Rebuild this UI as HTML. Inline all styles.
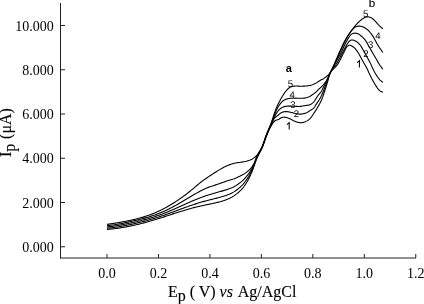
<!DOCTYPE html>
<html><head><meta charset="utf-8"><style>
html,body{margin:0;padding:0;background:#fff;}
svg{filter:grayscale(1);}
body{width:424px;height:304px;overflow:hidden;position:relative;}
svg{position:absolute;left:0;top:0;}
.serif{font-family:"Liberation Serif",serif;fill:#000;}
.ttl{stroke:#000;stroke-width:0.12px;}
.sans{font-family:"Liberation Sans",sans-serif;fill:#000;}
</style></head><body>
<svg width="424" height="304" viewBox="0 0 424 304">
<g stroke="#222" stroke-width="1" fill="none">
<line x1="60.5" y1="3" x2="60.5" y2="258.5"/>
<line x1="60" y1="258" x2="416" y2="258"/>
<line x1="60" y1="246.75" x2="65" y2="246.75"/>
<line x1="60" y1="202.50" x2="65" y2="202.50"/>
<line x1="60" y1="158.25" x2="65" y2="158.25"/>
<line x1="60" y1="114.00" x2="65" y2="114.00"/>
<line x1="60" y1="69.75" x2="65" y2="69.75"/>
<line x1="60" y1="25.50" x2="65" y2="25.50"/>
<line x1="107.00" y1="258" x2="107.00" y2="254"/>
<line x1="158.46" y1="258" x2="158.46" y2="254"/>
<line x1="209.92" y1="258" x2="209.92" y2="254"/>
<line x1="261.38" y1="258" x2="261.38" y2="254"/>
<line x1="312.84" y1="258" x2="312.84" y2="254"/>
<line x1="364.30" y1="258" x2="364.30" y2="254"/>
<line x1="415.76" y1="258" x2="415.76" y2="254"/>
</g>
<g stroke="#000" stroke-width="1.1" fill="none" stroke-linejoin="round">
<path d="M107.00 229.43 L107.84 229.35 L108.68 229.27 L109.51 229.20 L110.35 229.12 L111.19 229.04 L112.03 228.96 L112.86 228.87 L113.70 228.78 L114.54 228.68 L115.38 228.57 L116.21 228.46 L117.05 228.34 L117.89 228.22 L118.73 228.10 L119.56 227.97 L120.40 227.84 L121.24 227.71 L122.08 227.57 L122.91 227.43 L123.75 227.29 L124.59 227.15 L125.43 227.00 L126.26 226.85 L127.10 226.69 L127.94 226.53 L128.78 226.37 L129.61 226.20 L130.45 226.03 L131.29 225.86 L132.13 225.68 L132.96 225.50 L133.80 225.32 L134.64 225.14 L135.48 224.95 L136.31 224.76 L137.15 224.56 L137.99 224.37 L138.83 224.17 L139.66 223.97 L140.50 223.76 L141.34 223.55 L142.18 223.34 L143.02 223.12 L143.85 222.90 L144.69 222.68 L145.53 222.46 L146.36 222.23 L147.20 222.00 L148.04 221.77 L148.88 221.53 L149.72 221.29 L150.55 221.04 L151.39 220.80 L152.23 220.55 L153.06 220.30 L153.90 220.05 L154.74 219.80 L155.58 219.54 L156.41 219.28 L157.25 219.02 L158.09 218.76 L158.93 218.50 L159.76 218.24 L160.60 217.97 L161.44 217.70 L162.28 217.43 L163.11 217.16 L163.95 216.89 L164.79 216.61 L165.63 216.34 L166.46 216.06 L167.30 215.79 L168.14 215.52 L168.98 215.24 L169.81 214.96 L170.65 214.69 L171.49 214.41 L172.32 214.14 L173.16 213.86 L174.00 213.59 L174.84 213.32 L175.67 213.05 L176.51 212.78 L177.35 212.51 L178.19 212.24 L179.02 211.97 L179.86 211.71 L180.70 211.45 L181.54 211.19 L182.37 210.93 L183.21 210.68 L184.05 210.43 L184.88 210.18 L185.72 209.93 L186.56 209.68 L187.40 209.44 L188.24 209.20 L189.07 208.97 L189.91 208.73 L190.75 208.50 L191.58 208.27 L192.42 208.05 L193.26 207.83 L194.10 207.61 L194.94 207.40 L195.77 207.19 L196.61 206.98 L197.45 206.78 L198.29 206.58 L199.12 206.39 L199.96 206.19 L200.80 206.00 L201.64 205.81 L202.47 205.62 L203.31 205.44 L204.15 205.26 L204.99 205.08 L205.82 204.90 L206.66 204.72 L207.50 204.54 L208.34 204.36 L209.18 204.19 L210.01 204.01 L210.85 203.84 L211.69 203.67 L212.53 203.49 L213.36 203.31 L214.20 203.12 L215.04 202.93 L215.88 202.74 L216.72 202.54 L217.56 202.34 L218.39 202.14 L219.23 201.92 L220.07 201.70 L220.90 201.46 L221.74 201.21 L222.59 200.96 L223.43 200.70 L224.27 200.42 L225.11 200.14 L225.94 199.84 L226.77 199.51 L227.60 199.17 L228.45 198.80 L229.29 198.41 L230.13 198.01 L230.97 197.59 L231.80 197.14 L232.63 196.66 L233.47 196.15 L234.30 195.60 L235.29 194.90 L236.30 194.14 L237.33 193.32 L238.35 192.47 L239.34 191.60 L240.29 190.72 L241.19 189.85 L242.00 189.00 L242.60 188.32 L243.16 187.64 L243.68 186.97 L244.17 186.29 L244.63 185.61 L245.09 184.92 L245.54 184.21 L246.00 183.50 L246.47 182.76 L246.93 182.02 L247.37 181.27 L247.81 180.51 L248.24 179.73 L248.66 178.94 L249.08 178.13 L249.50 177.30 L249.96 176.34 L250.41 175.35 L250.85 174.35 L251.28 173.32 L251.71 172.27 L252.14 171.20 L252.57 170.11 L253.00 169.00 L253.49 167.70 L253.97 166.35 L254.44 164.97 L254.92 163.57 L255.41 162.16 L255.91 160.75 L256.44 159.36 L257.00 158.00 L257.61 156.67 L258.26 155.35 L258.95 154.05 L259.65 152.75 L260.35 151.45 L261.04 150.15 L261.69 148.83 L262.30 147.50 L262.86 146.15 L263.37 144.77 L263.87 143.38 L264.34 141.99 L264.81 140.60 L265.28 139.21 L265.78 137.85 L266.30 136.50 L266.83 135.20 L267.37 133.88 L267.92 132.56 L268.48 131.25 L269.05 129.98 L269.63 128.75 L270.21 127.59 L270.80 126.50 L271.26 125.69 L271.72 124.89 L272.18 124.12 L272.64 123.38 L273.11 122.69 L273.60 122.05 L274.12 121.49 L274.65 121.00 L275.09 120.69 L275.55 120.44 L276.03 120.24 L276.51 120.07 L276.99 119.92 L277.47 119.77 L277.95 119.60 L278.40 119.40 L278.81 119.18 L279.22 118.94 L279.61 118.68 L280.00 118.43 L280.39 118.18 L280.78 117.96 L281.18 117.76 L281.60 117.60 L282.02 117.48 L282.45 117.37 L282.89 117.29 L283.33 117.23 L283.77 117.19 L284.22 117.17 L284.66 117.17 L285.10 117.20 L285.56 117.26 L286.03 117.37 L286.51 117.50 L286.98 117.65 L287.45 117.82 L287.89 117.99 L288.31 118.15 L288.70 118.30 L288.95 118.40 L289.19 118.49 L289.40 118.58 L289.61 118.68 L289.82 118.77 L290.03 118.88 L290.26 118.98 L290.50 119.10 L290.85 119.27 L291.21 119.46 L291.59 119.67 L291.98 119.88 L292.38 120.09 L292.79 120.30 L293.19 120.51 L293.60 120.70 L294.02 120.89 L294.45 121.09 L294.88 121.28 L295.32 121.47 L295.76 121.65 L296.21 121.81 L296.65 121.96 L297.10 122.10 L297.54 122.22 L297.99 122.33 L298.44 122.43 L298.89 122.52 L299.35 122.60 L299.80 122.65 L300.25 122.69 L300.70 122.70 L301.14 122.69 L301.58 122.66 L302.02 122.60 L302.46 122.54 L302.90 122.45 L303.33 122.35 L303.77 122.23 L304.20 122.10 L304.66 121.94 L305.13 121.76 L305.61 121.56 L306.07 121.35 L306.53 121.12 L306.98 120.88 L307.40 120.64 L307.80 120.40 L308.11 120.19 L308.41 119.98 L308.69 119.77 L308.97 119.55 L309.23 119.32 L309.49 119.09 L309.74 118.85 L310.00 118.60 L310.27 118.33 L310.53 118.04 L310.78 117.75 L311.04 117.45 L311.28 117.15 L311.53 116.83 L311.76 116.52 L312.00 116.20 L312.23 115.87 L312.45 115.55 L312.67 115.22 L312.88 114.88 L313.09 114.53 L313.31 114.18 L313.55 113.80 L313.80 113.40 L314.19 112.80 L314.61 112.17 L315.06 111.50 L315.52 110.80 L315.99 110.08 L316.47 109.34 L316.94 108.57 L317.40 107.80 L317.94 106.85 L318.50 105.86 L319.06 104.84 L319.63 103.79 L320.18 102.72 L320.71 101.64 L321.22 100.57 L321.70 99.50 L322.13 98.46 L322.54 97.41 L322.92 96.36 L323.28 95.30 L323.64 94.24 L323.99 93.17 L324.34 92.09 L324.70 91.00 L325.08 89.84 L325.46 88.66 L325.84 87.47 L326.22 86.28 L326.59 85.08 L326.96 83.88 L327.33 82.68 L327.70 81.50 L328.03 80.33 L328.32 79.14 L328.59 77.95 L328.87 76.77 L329.18 75.60 L329.54 74.46 L329.97 73.35 L330.50 72.30 L331.16 71.31 L331.93 70.40 L332.77 69.54 L333.67 68.70 L334.60 67.86 L335.51 66.98 L336.39 66.04 L337.20 65.00 L338.11 63.60 L339.01 62.05 L339.89 60.41 L340.74 58.71 L341.56 57.02 L342.35 55.39 L343.10 53.87 L343.80 52.50 L344.25 51.63 L344.66 50.77 L345.04 49.94 L345.42 49.15 L345.79 48.41 L346.17 47.74 L346.57 47.14 L347.00 46.64 L347.31 46.35 L347.63 46.08 L347.96 45.85 L348.30 45.64 L348.63 45.47 L348.96 45.34 L349.29 45.25 L349.60 45.20 L349.85 45.20 L350.08 45.24 L350.32 45.31 L350.55 45.40 L350.78 45.51 L351.01 45.64 L351.25 45.77 L351.50 45.90 L351.85 46.08 L352.21 46.28 L352.57 46.50 L352.95 46.73 L353.33 46.99 L353.71 47.28 L354.09 47.59 L354.47 47.93 L355.00 48.46 L355.53 49.07 L356.07 49.73 L356.61 50.43 L357.14 51.17 L357.67 51.94 L358.19 52.72 L358.70 53.50 L359.26 54.42 L359.82 55.39 L360.36 56.40 L360.89 57.43 L361.42 58.47 L361.94 59.50 L362.47 60.52 L363.00 61.50 L363.51 62.40 L364.03 63.30 L364.56 64.19 L365.08 65.08 L365.59 65.95 L366.08 66.81 L366.56 67.66 L367.00 68.50 L367.35 69.20 L367.66 69.88 L367.95 70.53 L368.23 71.19 L368.52 71.85 L368.81 72.53 L369.14 73.24 L369.50 74.00 L370.06 75.13 L370.66 76.36 L371.31 77.65 L371.98 78.97 L372.68 80.30 L373.39 81.60 L374.10 82.85 L374.80 84.00 L375.40 84.94 L376.00 85.89 L376.62 86.82 L377.23 87.71 L377.85 88.56 L378.47 89.33 L379.09 90.02 L379.70 90.60 L380.10 90.91 L380.50 91.18 L380.90 91.39 L381.30 91.58 L381.70 91.76 L382.10 91.93 L382.50 92.10 L382.90 92.30"/>
<path d="M107.00 228.22 L107.84 228.14 L108.68 228.06 L109.51 227.98 L110.35 227.91 L111.19 227.83 L112.03 227.74 L112.86 227.65 L113.70 227.55 L114.54 227.44 L115.38 227.32 L116.22 227.20 L117.05 227.07 L117.89 226.93 L118.73 226.80 L119.56 226.65 L120.40 226.51 L121.24 226.36 L122.08 226.21 L122.91 226.05 L123.75 225.89 L124.59 225.73 L125.43 225.57 L126.26 225.40 L127.10 225.23 L127.94 225.06 L128.78 224.89 L129.61 224.71 L130.45 224.53 L131.29 224.35 L132.13 224.17 L132.96 223.99 L133.80 223.80 L134.64 223.61 L135.48 223.42 L136.31 223.22 L137.15 223.03 L137.99 222.83 L138.83 222.62 L139.66 222.42 L140.50 222.21 L141.34 222.00 L142.18 221.79 L143.02 221.57 L143.85 221.35 L144.69 221.13 L145.53 220.91 L146.36 220.68 L147.20 220.45 L148.04 220.22 L148.88 219.98 L149.72 219.74 L150.55 219.50 L151.39 219.25 L152.23 219.00 L153.06 218.75 L153.90 218.50 L154.74 218.24 L155.58 217.98 L156.42 217.72 L157.25 217.45 L158.09 217.18 L158.93 216.91 L159.76 216.64 L160.60 216.36 L161.44 216.08 L162.28 215.79 L163.12 215.51 L163.95 215.22 L164.79 214.93 L165.63 214.63 L166.46 214.34 L167.30 214.04 L168.14 213.74 L168.98 213.44 L169.81 213.14 L170.65 212.84 L171.49 212.53 L172.33 212.22 L173.16 211.92 L174.00 211.61 L174.84 211.30 L175.68 210.99 L176.51 210.68 L177.35 210.37 L178.19 210.05 L179.02 209.74 L179.86 209.43 L180.70 209.12 L181.54 208.81 L182.37 208.51 L183.21 208.20 L184.05 207.89 L184.89 207.59 L185.72 207.29 L186.56 206.99 L187.40 206.69 L188.24 206.40 L189.07 206.10 L189.91 205.81 L190.75 205.52 L191.58 205.24 L192.42 204.96 L193.26 204.68 L194.10 204.40 L194.94 204.13 L195.77 203.86 L196.61 203.60 L197.45 203.33 L198.28 203.08 L199.12 202.82 L199.96 202.57 L200.80 202.32 L201.64 202.08 L202.47 201.84 L203.31 201.60 L204.15 201.37 L204.98 201.14 L205.82 200.91 L206.66 200.68 L207.50 200.46 L208.34 200.24 L209.17 200.03 L210.01 199.82 L210.85 199.61 L211.69 199.40 L212.53 199.19 L213.36 198.98 L214.20 198.77 L215.04 198.56 L215.88 198.35 L216.72 198.14 L217.55 197.92 L218.39 197.71 L219.23 197.49 L220.07 197.26 L220.90 197.02 L221.74 196.77 L222.58 196.53 L223.42 196.27 L224.26 196.02 L225.10 195.75 L225.94 195.46 L226.77 195.16 L227.60 194.84 L228.45 194.50 L229.29 194.15 L230.13 193.79 L230.96 193.41 L231.80 193.01 L232.63 192.58 L233.46 192.12 L234.30 191.61 L235.28 190.96 L236.30 190.24 L237.32 189.47 L238.34 188.67 L239.33 187.84 L240.29 187.01 L241.18 186.19 L242.00 185.40 L242.60 184.79 L243.15 184.18 L243.66 183.58 L244.15 182.98 L244.62 182.37 L245.08 181.76 L245.54 181.14 L246.00 180.50 L246.47 179.84 L246.92 179.18 L247.37 178.51 L247.80 177.84 L248.23 177.15 L248.66 176.45 L249.08 175.73 L249.50 175.00 L249.96 174.18 L250.40 173.36 L250.84 172.52 L251.28 171.66 L251.71 170.79 L252.14 169.89 L252.57 168.96 L253.00 168.00 L253.50 166.80 L253.99 165.53 L254.46 164.22 L254.94 162.88 L255.42 161.52 L255.92 160.16 L256.45 158.82 L257.00 157.50 L257.61 156.18 L258.27 154.87 L258.95 153.57 L259.65 152.27 L260.35 150.97 L261.04 149.66 L261.69 148.34 L262.30 147.00 L262.86 145.65 L263.38 144.28 L263.87 142.90 L264.35 141.51 L264.82 140.12 L265.29 138.74 L265.78 137.36 L266.30 136.00 L266.84 134.65 L267.39 133.30 L267.96 131.94 L268.53 130.59 L269.11 129.26 L269.68 127.96 L270.25 126.70 L270.80 125.50 L271.24 124.53 L271.66 123.56 L272.07 122.62 L272.49 121.70 L272.91 120.82 L273.35 119.98 L273.81 119.21 L274.31 118.50 L274.74 118.00 L275.19 117.54 L275.66 117.12 L276.15 116.73 L276.63 116.36 L277.11 116.00 L277.57 115.65 L278.00 115.30 L278.33 115.01 L278.66 114.72 L278.97 114.44 L279.28 114.17 L279.58 113.90 L279.88 113.65 L280.19 113.42 L280.50 113.20 L280.77 113.03 L281.03 112.86 L281.29 112.71 L281.56 112.57 L281.82 112.44 L282.10 112.32 L282.39 112.20 L282.70 112.10 L283.10 111.99 L283.53 111.89 L283.98 111.80 L284.44 111.73 L284.91 111.67 L285.38 111.63 L285.84 111.61 L286.30 111.60 L286.75 111.61 L287.20 111.65 L287.65 111.70 L288.11 111.76 L288.56 111.84 L289.01 111.92 L289.45 112.01 L289.90 112.10 L290.34 112.19 L290.76 112.30 L291.18 112.41 L291.60 112.53 L292.03 112.65 L292.47 112.77 L292.92 112.89 L293.40 113.00 L294.03 113.15 L294.70 113.31 L295.40 113.48 L296.12 113.65 L296.84 113.80 L297.55 113.94 L298.24 114.04 L298.90 114.10 L299.44 114.12 L299.97 114.13 L300.49 114.11 L301.01 114.08 L301.51 114.03 L302.01 113.96 L302.51 113.89 L303.00 113.80 L303.47 113.71 L303.93 113.60 L304.39 113.49 L304.84 113.36 L305.29 113.22 L305.73 113.06 L306.17 112.89 L306.60 112.70 L307.04 112.49 L307.47 112.25 L307.89 112.00 L308.31 111.73 L308.73 111.45 L309.15 111.17 L309.57 110.88 L310.00 110.60 L310.48 110.30 L310.97 110.00 L311.48 109.70 L311.98 109.39 L312.48 109.07 L312.95 108.73 L313.40 108.38 L313.80 108.00 L314.13 107.63 L314.43 107.24 L314.69 106.85 L314.94 106.43 L315.18 106.00 L315.43 105.56 L315.70 105.09 L316.00 104.60 L316.48 103.86 L317.01 103.07 L317.58 102.24 L318.16 101.38 L318.74 100.48 L319.32 99.57 L319.88 98.64 L320.40 97.70 L320.94 96.66 L321.46 95.58 L321.96 94.47 L322.45 93.34 L322.93 92.21 L323.39 91.06 L323.85 89.93 L324.30 88.80 L324.73 87.70 L325.14 86.59 L325.55 85.48 L325.94 84.37 L326.33 83.26 L326.72 82.16 L327.10 81.07 L327.50 80.00 L327.86 79.01 L328.20 78.03 L328.53 77.06 L328.87 76.10 L329.22 75.15 L329.60 74.20 L330.02 73.25 L330.50 72.30 L331.10 71.26 L331.77 70.25 L332.50 69.24 L333.25 68.24 L334.03 67.23 L334.81 66.19 L335.57 65.12 L336.30 64.00 L337.11 62.65 L337.93 61.22 L338.75 59.74 L339.56 58.23 L340.36 56.72 L341.13 55.25 L341.88 53.83 L342.60 52.50 L343.15 51.48 L343.67 50.48 L344.18 49.51 L344.67 48.56 L345.15 47.64 L345.64 46.75 L346.12 45.90 L346.60 45.10 L346.98 44.49 L347.35 43.87 L347.72 43.28 L348.08 42.70 L348.45 42.17 L348.82 41.68 L349.21 41.26 L349.60 40.90 L349.88 40.69 L350.16 40.51 L350.45 40.35 L350.74 40.22 L351.03 40.12 L351.33 40.04 L351.64 39.98 L351.95 39.95 L352.33 39.95 L352.72 40.00 L353.13 40.09 L353.55 40.21 L353.97 40.34 L354.37 40.49 L354.75 40.65 L355.10 40.80 L355.37 40.92 L355.61 41.05 L355.84 41.18 L356.07 41.31 L356.29 41.46 L356.51 41.62 L356.75 41.80 L357.00 42.00 L357.40 42.33 L357.83 42.70 L358.27 43.10 L358.73 43.53 L359.19 43.99 L359.64 44.48 L360.08 44.98 L360.50 45.50 L360.97 46.16 L361.43 46.86 L361.88 47.61 L362.32 48.39 L362.74 49.18 L363.17 49.97 L363.58 50.75 L364.00 51.50 L364.39 52.20 L364.77 52.89 L365.15 53.58 L365.52 54.26 L365.89 54.95 L366.26 55.63 L366.63 56.31 L367.00 57.00 L367.37 57.68 L367.74 58.33 L368.10 58.99 L368.47 59.64 L368.84 60.31 L369.21 61.00 L369.60 61.73 L370.00 62.50 L370.55 63.62 L371.12 64.83 L371.70 66.12 L372.29 67.44 L372.90 68.77 L373.52 70.07 L374.16 71.33 L374.80 72.50 L375.39 73.49 L375.99 74.47 L376.61 75.44 L377.24 76.38 L377.86 77.28 L378.49 78.12 L379.10 78.90 L379.70 79.60 L380.11 80.04 L380.51 80.43 L380.91 80.78 L381.31 81.11 L381.71 81.43 L382.10 81.74 L382.50 82.06 L382.90 82.40"/>
<path d="M107.00 226.93 L107.84 226.84 L108.68 226.75 L109.51 226.66 L110.35 226.57 L111.19 226.48 L112.03 226.39 L112.86 226.28 L113.70 226.17 L114.54 226.05 L115.38 225.92 L116.22 225.78 L117.05 225.64 L117.89 225.49 L118.73 225.34 L119.56 225.19 L120.40 225.04 L121.24 224.89 L122.08 224.73 L122.91 224.57 L123.75 224.41 L124.59 224.24 L125.43 224.08 L126.26 223.91 L127.10 223.74 L127.94 223.57 L128.78 223.39 L129.61 223.22 L130.45 223.04 L131.29 222.86 L132.13 222.67 L132.96 222.49 L133.80 222.30 L134.64 222.11 L135.48 221.92 L136.31 221.73 L137.15 221.53 L137.99 221.33 L138.83 221.13 L139.66 220.93 L140.50 220.72 L141.34 220.51 L142.18 220.30 L143.02 220.08 L143.85 219.86 L144.69 219.64 L145.53 219.41 L146.36 219.18 L147.20 218.95 L148.04 218.71 L148.88 218.47 L149.72 218.22 L150.55 217.97 L151.39 217.71 L152.23 217.45 L153.06 217.19 L153.90 216.92 L154.74 216.65 L155.58 216.37 L156.42 216.08 L157.26 215.79 L158.09 215.50 L158.93 215.20 L159.76 214.90 L160.60 214.60 L161.44 214.29 L162.28 213.98 L163.12 213.66 L163.96 213.34 L164.79 213.01 L165.63 212.68 L166.46 212.35 L167.30 212.01 L168.14 211.67 L168.98 211.32 L169.82 210.97 L170.65 210.61 L171.49 210.25 L172.33 209.89 L173.16 209.53 L174.00 209.17 L174.84 208.80 L175.68 208.43 L176.51 208.06 L177.35 207.69 L178.19 207.32 L179.03 206.94 L179.86 206.56 L180.70 206.19 L181.54 205.81 L182.37 205.44 L183.21 205.06 L184.05 204.68 L184.89 204.30 L185.72 203.93 L186.56 203.55 L187.40 203.18 L188.24 202.81 L189.07 202.44 L189.91 202.07 L190.75 201.71 L191.58 201.34 L192.42 200.98 L193.26 200.62 L194.10 200.27 L194.94 199.92 L195.77 199.58 L196.61 199.24 L197.44 198.90 L198.28 198.57 L199.12 198.24 L199.96 197.92 L200.80 197.60 L201.63 197.29 L202.47 196.98 L203.31 196.68 L204.14 196.39 L204.98 196.10 L205.82 195.81 L206.66 195.53 L207.50 195.25 L208.34 194.98 L209.17 194.72 L210.01 194.46 L210.85 194.20 L211.68 193.95 L212.52 193.70 L213.36 193.45 L214.20 193.21 L215.04 192.97 L215.87 192.74 L216.71 192.51 L217.55 192.28 L218.39 192.05 L219.23 191.82 L220.06 191.59 L220.90 191.35 L221.74 191.11 L222.58 190.87 L223.42 190.63 L224.26 190.39 L225.10 190.15 L225.93 189.89 L226.77 189.62 L227.60 189.33 L228.44 189.03 L229.28 188.73 L230.12 188.42 L230.95 188.10 L231.79 187.76 L232.62 187.40 L233.46 187.00 L234.30 186.56 L235.28 186.00 L236.29 185.38 L237.31 184.72 L238.33 184.03 L239.32 183.31 L240.28 182.59 L241.18 181.89 L242.00 181.20 L242.59 180.68 L243.14 180.16 L243.65 179.64 L244.14 179.12 L244.61 178.60 L245.08 178.07 L245.53 177.54 L246.00 177.00 L246.46 176.46 L246.91 175.92 L247.36 175.38 L247.80 174.83 L248.23 174.27 L248.66 173.70 L249.08 173.11 L249.50 172.50 L249.96 171.81 L250.41 171.11 L250.85 170.40 L251.29 169.67 L251.72 168.92 L252.15 168.14 L252.57 167.34 L253.00 166.50 L253.51 165.43 L254.00 164.30 L254.48 163.13 L254.96 161.92 L255.44 160.69 L255.94 159.45 L256.46 158.22 L257.00 157.00 L257.62 155.71 L258.28 154.41 L258.97 153.11 L259.66 151.81 L260.36 150.49 L261.04 149.17 L261.69 147.84 L262.30 146.50 L262.86 145.15 L263.38 143.78 L263.87 142.40 L264.35 141.01 L264.82 139.62 L265.29 138.24 L265.78 136.86 L266.30 135.50 L266.84 134.16 L267.40 132.82 L267.97 131.47 L268.55 130.14 L269.13 128.82 L269.70 127.52 L270.26 126.24 L270.80 125.00 L271.25 123.94 L271.68 122.89 L272.11 121.87 L272.52 120.86 L272.94 119.87 L273.38 118.89 L273.83 117.94 L274.31 117.00 L274.78 116.13 L275.27 115.26 L275.77 114.40 L276.28 113.56 L276.80 112.75 L277.33 111.97 L277.86 111.26 L278.40 110.60 L278.82 110.13 L279.24 109.69 L279.67 109.27 L280.10 108.88 L280.54 108.52 L280.98 108.19 L281.44 107.88 L281.90 107.60 L282.33 107.37 L282.75 107.18 L283.18 107.01 L283.62 106.86 L284.07 106.72 L284.53 106.61 L285.01 106.50 L285.50 106.40 L286.11 106.30 L286.76 106.23 L287.43 106.17 L288.12 106.14 L288.81 106.12 L289.49 106.11 L290.16 106.10 L290.80 106.10 L291.35 106.10 L291.88 106.12 L292.39 106.15 L292.91 106.18 L293.42 106.21 L293.94 106.25 L294.46 106.28 L295.00 106.30 L295.60 106.32 L296.22 106.35 L296.84 106.39 L297.47 106.41 L298.11 106.43 L298.74 106.44 L299.37 106.43 L300.00 106.40 L300.63 106.34 L301.27 106.26 L301.90 106.16 L302.54 106.05 L303.17 105.93 L303.79 105.81 L304.40 105.70 L305.00 105.60 L305.53 105.53 L306.06 105.46 L306.58 105.41 L307.09 105.35 L307.60 105.29 L308.09 105.21 L308.55 105.12 L309.00 105.00 L309.35 104.89 L309.68 104.76 L310.00 104.63 L310.31 104.48 L310.62 104.33 L310.91 104.16 L311.21 103.99 L311.50 103.80 L311.81 103.59 L312.11 103.37 L312.40 103.14 L312.69 102.90 L312.98 102.64 L313.26 102.38 L313.53 102.10 L313.80 101.80 L314.10 101.44 L314.38 101.05 L314.66 100.64 L314.93 100.21 L315.20 99.77 L315.47 99.34 L315.73 98.91 L316.00 98.50 L316.25 98.12 L316.49 97.75 L316.73 97.38 L316.97 97.01 L317.21 96.64 L317.46 96.27 L317.72 95.89 L318.00 95.50 L318.36 95.03 L318.74 94.57 L319.14 94.10 L319.55 93.63 L319.97 93.14 L320.39 92.62 L320.80 92.08 L321.20 91.50 L321.70 90.68 L322.21 89.78 L322.71 88.81 L323.21 87.82 L323.70 86.82 L324.18 85.83 L324.65 84.88 L325.10 84.00 L325.46 83.33 L325.81 82.70 L326.16 82.09 L326.50 81.49 L326.83 80.89 L327.16 80.29 L327.48 79.66 L327.80 79.00 L328.15 78.22 L328.47 77.43 L328.78 76.62 L329.09 75.79 L329.41 74.94 L329.74 74.08 L330.10 73.20 L330.50 72.30 L331.04 71.16 L331.63 69.97 L332.25 68.75 L332.90 67.51 L333.57 66.25 L334.25 64.99 L334.93 63.74 L335.60 62.50 L336.29 61.25 L337.00 60.00 L337.71 58.75 L338.44 57.50 L339.16 56.25 L339.86 55.00 L340.55 53.75 L341.20 52.50 L341.80 51.29 L342.38 50.05 L342.94 48.80 L343.49 47.56 L344.03 46.34 L344.56 45.16 L345.08 44.04 L345.60 43.00 L345.99 42.26 L346.36 41.55 L346.73 40.88 L347.10 40.23 L347.47 39.60 L347.84 38.98 L348.21 38.39 L348.60 37.80 L348.95 37.28 L349.29 36.75 L349.63 36.23 L349.98 35.72 L350.33 35.25 L350.70 34.81 L351.09 34.42 L351.50 34.10 L351.86 33.88 L352.24 33.69 L352.63 33.53 L353.03 33.40 L353.43 33.31 L353.84 33.23 L354.25 33.18 L354.65 33.15 L355.06 33.14 L355.48 33.16 L355.90 33.21 L356.32 33.28 L356.74 33.37 L357.17 33.49 L357.58 33.63 L358.00 33.80 L358.48 34.03 L358.97 34.31 L359.45 34.62 L359.93 34.96 L360.41 35.33 L360.88 35.71 L361.34 36.10 L361.80 36.50 L362.29 36.94 L362.77 37.39 L363.24 37.86 L363.71 38.35 L364.17 38.86 L364.62 39.39 L365.07 39.93 L365.50 40.50 L365.97 41.17 L366.42 41.88 L366.86 42.61 L367.28 43.37 L367.70 44.15 L368.13 44.93 L368.56 45.72 L369.00 46.50 L369.49 47.35 L369.99 48.22 L370.49 49.11 L371.00 50.00 L371.51 50.89 L372.01 51.78 L372.51 52.65 L373.00 53.50 L373.45 54.28 L373.90 55.05 L374.34 55.81 L374.78 56.56 L375.22 57.31 L375.65 58.05 L376.08 58.78 L376.50 59.50 L376.88 60.16 L377.26 60.81 L377.62 61.46 L377.99 62.10 L378.35 62.73 L378.72 63.36 L379.11 63.98 L379.50 64.60 L379.90 65.20 L380.32 65.80 L380.74 66.39 L381.17 66.97 L381.61 67.55 L382.04 68.13 L382.47 68.71 L382.90 69.30"/>
<path d="M107.00 225.58 L107.84 225.49 L108.68 225.41 L109.51 225.33 L110.35 225.25 L111.19 225.16 L112.03 225.07 L112.86 224.97 L113.70 224.86 L114.54 224.73 L115.38 224.60 L116.22 224.46 L117.05 224.31 L117.89 224.15 L118.73 223.99 L119.56 223.83 L120.40 223.67 L121.24 223.51 L122.08 223.34 L122.91 223.17 L123.75 223.00 L124.59 222.82 L125.43 222.65 L126.26 222.47 L127.10 222.29 L127.94 222.11 L128.78 221.93 L129.61 221.75 L130.45 221.57 L131.29 221.38 L132.13 221.20 L132.96 221.01 L133.80 220.82 L134.64 220.63 L135.48 220.43 L136.31 220.24 L137.15 220.04 L137.99 219.84 L138.83 219.64 L139.66 219.43 L140.50 219.22 L141.34 219.01 L142.18 218.79 L143.02 218.57 L143.85 218.35 L144.69 218.12 L145.53 217.89 L146.36 217.65 L147.20 217.41 L148.04 217.16 L148.88 216.91 L149.72 216.65 L150.56 216.39 L151.39 216.12 L152.23 215.85 L153.07 215.57 L153.90 215.28 L154.74 214.98 L155.58 214.68 L156.42 214.37 L157.26 214.06 L158.10 213.73 L158.93 213.41 L159.77 213.07 L160.60 212.73 L161.44 212.38 L162.28 212.02 L163.12 211.65 L163.96 211.28 L164.80 210.90 L165.63 210.52 L166.47 210.13 L167.30 209.73 L168.14 209.32 L168.98 208.91 L169.82 208.49 L170.66 208.06 L171.50 207.63 L172.33 207.19 L173.17 206.75 L174.00 206.30 L174.84 205.84 L175.68 205.38 L176.52 204.91 L177.36 204.44 L178.19 203.96 L179.03 203.48 L179.86 203.00 L180.70 202.52 L181.54 202.03 L182.38 201.54 L183.22 201.04 L184.05 200.55 L184.89 200.05 L185.73 199.55 L186.56 199.05 L187.40 198.55 L188.24 198.05 L189.07 197.55 L189.91 197.05 L190.75 196.55 L191.58 196.05 L192.42 195.56 L193.26 195.07 L194.10 194.58 L194.93 194.10 L195.77 193.62 L196.60 193.14 L197.44 192.66 L198.28 192.19 L199.12 191.73 L199.96 191.28 L200.80 190.84 L201.63 190.42 L202.46 190.00 L203.30 189.59 L204.13 189.19 L204.97 188.79 L205.81 188.41 L206.65 188.05 L207.50 187.70 L208.33 187.38 L209.16 187.08 L210.00 186.79 L210.84 186.52 L211.68 186.25 L212.52 185.98 L213.36 185.71 L214.20 185.43 L215.04 185.14 L215.88 184.86 L216.71 184.57 L217.55 184.28 L218.39 183.99 L219.23 183.70 L220.06 183.41 L220.90 183.12 L221.74 182.83 L222.57 182.53 L223.41 182.23 L224.25 181.94 L225.08 181.64 L225.92 181.35 L226.76 181.06 L227.60 180.78 L228.43 180.52 L229.25 180.28 L230.07 180.06 L230.88 179.83 L231.71 179.59 L232.55 179.34 L233.41 179.05 L234.30 178.72 L235.47 178.24 L236.72 177.70 L238.02 177.11 L239.34 176.49 L240.63 175.85 L241.86 175.21 L242.99 174.59 L244.00 174.00 L244.61 173.62 L245.17 173.24 L245.69 172.87 L246.18 172.51 L246.65 172.14 L247.10 171.76 L247.55 171.39 L248.00 171.00 L248.41 170.64 L248.80 170.29 L249.19 169.93 L249.56 169.57 L249.93 169.20 L250.29 168.82 L250.64 168.42 L251.00 168.00 L251.40 167.50 L251.79 166.99 L252.18 166.46 L252.56 165.92 L252.93 165.35 L253.29 164.76 L253.65 164.14 L254.00 163.50 L254.40 162.67 L254.77 161.79 L255.11 160.88 L255.46 159.93 L255.80 158.96 L256.17 157.97 L256.56 156.98 L257.00 156.00 L257.58 154.86 L258.22 153.72 L258.91 152.56 L259.62 151.39 L260.33 150.20 L261.03 148.99 L261.69 147.76 L262.30 146.50 L262.87 145.13 L263.40 143.71 L263.89 142.27 L264.36 140.80 L264.82 139.33 L265.29 137.86 L265.78 136.42 L266.30 135.00 L266.84 133.65 L267.40 132.30 L267.98 130.96 L268.57 129.62 L269.15 128.31 L269.72 127.01 L270.28 125.74 L270.80 124.50 L271.23 123.45 L271.64 122.42 L272.04 121.41 L272.44 120.42 L272.82 119.44 L273.21 118.46 L273.59 117.48 L273.98 116.50 L274.36 115.53 L274.73 114.55 L275.10 113.57 L275.47 112.59 L275.85 111.63 L276.22 110.71 L276.61 109.83 L277.00 109.00 L277.31 108.39 L277.62 107.81 L277.92 107.26 L278.24 106.73 L278.56 106.22 L278.89 105.71 L279.23 105.21 L279.60 104.70 L279.99 104.18 L280.38 103.65 L280.79 103.12 L281.22 102.61 L281.65 102.11 L282.11 101.64 L282.59 101.20 L283.10 100.80 L283.63 100.44 L284.19 100.11 L284.77 99.81 L285.37 99.54 L285.99 99.29 L286.62 99.07 L287.26 98.87 L287.90 98.70 L288.60 98.55 L289.31 98.44 L290.05 98.36 L290.79 98.31 L291.54 98.27 L292.29 98.25 L293.05 98.23 L293.80 98.20 L294.57 98.18 L295.35 98.17 L296.14 98.17 L296.93 98.18 L297.72 98.19 L298.49 98.20 L299.26 98.21 L300.00 98.20 L300.66 98.19 L301.30 98.19 L301.94 98.19 L302.57 98.18 L303.20 98.17 L303.81 98.14 L304.41 98.08 L305.00 98.00 L305.53 97.90 L306.06 97.79 L306.57 97.66 L307.08 97.51 L307.58 97.35 L308.07 97.18 L308.54 96.99 L309.00 96.80 L309.40 96.61 L309.79 96.41 L310.16 96.20 L310.52 95.98 L310.88 95.75 L311.24 95.51 L311.61 95.26 L312.00 95.00 L312.48 94.67 L312.99 94.32 L313.50 93.95 L314.02 93.57 L314.54 93.19 L315.04 92.79 L315.53 92.39 L316.00 92.00 L316.41 91.63 L316.80 91.26 L317.17 90.88 L317.54 90.49 L317.91 90.11 L318.27 89.73 L318.63 89.36 L319.00 89.00 L319.35 88.68 L319.70 88.38 L320.04 88.09 L320.39 87.80 L320.73 87.51 L321.08 87.20 L321.44 86.87 L321.80 86.50 L322.29 85.97 L322.81 85.38 L323.34 84.76 L323.87 84.11 L324.39 83.44 L324.90 82.78 L325.37 82.12 L325.80 81.50 L326.13 80.99 L326.43 80.50 L326.70 80.01 L326.97 79.52 L327.22 79.03 L327.47 78.54 L327.73 78.03 L328.00 77.50 L328.31 76.89 L328.61 76.28 L328.91 75.66 L329.21 75.02 L329.51 74.37 L329.83 73.70 L330.16 73.01 L330.50 72.30 L330.96 71.36 L331.44 70.39 L331.94 69.39 L332.46 68.36 L332.99 67.30 L333.52 66.22 L334.06 65.12 L334.60 64.00 L335.24 62.65 L335.90 61.25 L336.56 59.81 L337.24 58.34 L337.92 56.86 L338.59 55.39 L339.25 53.93 L339.90 52.50 L340.50 51.15 L341.10 49.79 L341.69 48.44 L342.27 47.09 L342.85 45.76 L343.43 44.46 L344.01 43.21 L344.60 42.00 L345.10 41.01 L345.61 40.04 L346.11 39.09 L346.62 38.16 L347.13 37.26 L347.62 36.40 L348.12 35.56 L348.60 34.77 L348.97 34.17 L349.32 33.60 L349.67 33.05 L350.01 32.52 L350.36 32.01 L350.72 31.51 L351.10 31.02 L351.50 30.54 L351.91 30.07 L352.35 29.60 L352.79 29.13 L353.25 28.68 L353.71 28.25 L354.18 27.85 L354.64 27.50 L355.10 27.20 L355.46 27.00 L355.82 26.82 L356.18 26.67 L356.54 26.54 L356.90 26.43 L357.26 26.34 L357.63 26.26 L358.00 26.20 L358.37 26.15 L358.74 26.12 L359.11 26.11 L359.48 26.12 L359.85 26.14 L360.23 26.18 L360.61 26.23 L361.00 26.30 L361.45 26.40 L361.91 26.52 L362.38 26.67 L362.84 26.83 L363.31 27.02 L363.78 27.22 L364.24 27.45 L364.70 27.70 L365.21 28.01 L365.72 28.35 L366.23 28.71 L366.73 29.11 L367.23 29.52 L367.73 29.96 L368.22 30.42 L368.70 30.90 L369.26 31.48 L369.81 32.10 L370.35 32.75 L370.89 33.42 L371.42 34.13 L371.95 34.86 L372.47 35.62 L373.00 36.40 L373.63 37.41 L374.26 38.50 L374.88 39.64 L375.49 40.82 L376.11 42.01 L376.73 43.18 L377.36 44.32 L378.00 45.40 L378.60 46.34 L379.20 47.26 L379.82 48.16 L380.43 49.04 L381.05 49.91 L381.67 50.78 L382.29 51.65 L382.90 52.54"/>
<path d="M107.00 224.37 L107.84 224.24 L108.68 224.12 L109.51 224.00 L110.35 223.87 L111.19 223.75 L112.03 223.62 L112.86 223.49 L113.70 223.36 L114.54 223.23 L115.38 223.09 L116.21 222.96 L117.05 222.82 L117.89 222.68 L118.73 222.54 L119.56 222.40 L120.40 222.25 L121.24 222.10 L122.08 221.95 L122.91 221.80 L123.75 221.64 L124.59 221.49 L125.43 221.33 L126.26 221.17 L127.10 221.00 L127.94 220.83 L128.78 220.66 L129.62 220.49 L130.45 220.31 L131.29 220.13 L132.13 219.95 L132.96 219.76 L133.80 219.57 L134.64 219.37 L135.48 219.17 L136.32 218.96 L137.15 218.75 L137.99 218.54 L138.83 218.32 L139.66 218.09 L140.50 217.86 L141.34 217.62 L142.18 217.38 L143.02 217.13 L143.86 216.87 L144.69 216.61 L145.53 216.34 L146.37 216.07 L147.20 215.79 L148.04 215.50 L148.88 215.20 L149.72 214.90 L150.56 214.59 L151.40 214.28 L152.23 213.96 L153.07 213.63 L153.90 213.29 L154.74 212.94 L155.58 212.58 L156.42 212.22 L157.26 211.85 L158.10 211.47 L158.93 211.08 L159.77 210.69 L160.60 210.29 L161.44 209.88 L162.28 209.45 L163.12 209.02 L163.96 208.59 L164.80 208.14 L165.63 207.69 L166.47 207.23 L167.30 206.77 L168.14 206.29 L168.99 205.80 L169.83 205.31 L170.66 204.81 L171.50 204.30 L172.34 203.79 L173.17 203.27 L174.00 202.74 L174.84 202.20 L175.69 201.65 L176.52 201.09 L177.36 200.53 L178.20 199.96 L179.03 199.39 L179.87 198.81 L180.70 198.23 L181.54 197.63 L182.38 197.03 L183.23 196.43 L184.06 195.81 L184.90 195.19 L185.74 194.57 L186.57 193.94 L187.40 193.30 L188.24 192.64 L189.08 191.97 L189.92 191.30 L190.76 190.61 L191.60 189.93 L192.43 189.24 L193.27 188.55 L194.10 187.86 L194.94 187.16 L195.77 186.45 L196.61 185.74 L197.44 185.02 L198.27 184.31 L199.11 183.61 L199.95 182.93 L200.80 182.26 L201.63 181.63 L202.46 181.02 L203.30 180.41 L204.13 179.82 L204.97 179.23 L205.82 178.65 L206.66 178.07 L207.50 177.49 L208.33 176.92 L209.17 176.35 L210.00 175.79 L210.84 175.23 L211.68 174.67 L212.52 174.12 L213.36 173.57 L214.20 173.03 L215.03 172.49 L215.87 171.96 L216.70 171.43 L217.53 170.90 L218.37 170.38 L219.21 169.87 L220.05 169.37 L220.90 168.89 L221.73 168.43 L222.56 167.98 L223.39 167.54 L224.23 167.11 L225.07 166.69 L225.91 166.29 L226.75 165.90 L227.60 165.54 L228.43 165.20 L229.26 164.88 L230.09 164.57 L230.93 164.27 L231.77 163.99 L232.61 163.73 L233.45 163.49 L234.30 163.27 L235.14 163.08 L235.99 162.92 L236.85 162.78 L237.70 162.66 L238.55 162.55 L239.39 162.44 L240.21 162.32 L241.00 162.20 L241.66 162.09 L242.32 161.98 L242.96 161.88 L243.58 161.78 L244.20 161.67 L244.81 161.56 L245.41 161.43 L246.00 161.30 L246.53 161.17 L247.05 161.04 L247.57 160.90 L248.07 160.75 L248.57 160.60 L249.06 160.44 L249.54 160.28 L250.00 160.10 L250.40 159.94 L250.80 159.77 L251.19 159.59 L251.56 159.41 L251.93 159.22 L252.29 159.02 L252.65 158.82 L253.00 158.60 L253.34 158.38 L253.66 158.14 L253.99 157.89 L254.30 157.64 L254.61 157.38 L254.91 157.12 L255.21 156.86 L255.50 156.60 L255.77 156.36 L256.03 156.12 L256.28 155.88 L256.53 155.64 L256.78 155.40 L257.02 155.14 L257.26 154.88 L257.50 154.60 L257.77 154.27 L258.04 153.93 L258.30 153.58 L258.56 153.21 L258.82 152.84 L259.08 152.44 L259.34 152.03 L259.60 151.60 L259.94 151.02 L260.27 150.42 L260.60 149.79 L260.94 149.13 L261.27 148.45 L261.61 147.73 L261.95 146.98 L262.30 146.20 L262.78 145.05 L263.27 143.80 L263.76 142.48 L264.26 141.10 L264.76 139.70 L265.27 138.28 L265.78 136.88 L266.30 135.50 L266.85 134.10 L267.41 132.70 L267.99 131.30 L268.57 129.89 L269.15 128.47 L269.71 127.05 L270.27 125.63 L270.80 124.20 L271.32 122.73 L271.83 121.21 L272.32 119.66 L272.81 118.12 L273.29 116.61 L273.75 115.15 L274.21 113.78 L274.65 112.50 L274.96 111.65 L275.25 110.85 L275.53 110.09 L275.81 109.36 L276.09 108.65 L276.38 107.94 L276.68 107.23 L277.00 106.50 L277.34 105.74 L277.70 104.98 L278.07 104.22 L278.45 103.46 L278.84 102.71 L279.22 101.96 L279.61 101.22 L280.00 100.50 L280.37 99.82 L280.73 99.15 L281.10 98.49 L281.48 97.83 L281.85 97.18 L282.23 96.55 L282.61 95.92 L283.00 95.30 L283.36 94.73 L283.73 94.16 L284.10 93.60 L284.47 93.05 L284.84 92.51 L285.22 91.99 L285.61 91.49 L286.00 91.00 L286.36 90.58 L286.72 90.16 L287.09 89.75 L287.46 89.36 L287.83 88.99 L288.22 88.63 L288.60 88.30 L289.00 88.00 L289.36 87.75 L289.71 87.52 L290.07 87.31 L290.44 87.12 L290.82 86.94 L291.20 86.78 L291.59 86.63 L292.00 86.50 L292.46 86.38 L292.95 86.27 L293.44 86.19 L293.95 86.13 L294.47 86.08 L294.98 86.05 L295.49 86.02 L296.00 86.00 L296.49 85.99 L296.98 86.01 L297.46 86.04 L297.95 86.08 L298.44 86.12 L298.94 86.16 L299.46 86.19 L300.00 86.20 L300.70 86.20 L301.43 86.20 L302.19 86.19 L302.96 86.17 L303.74 86.15 L304.51 86.11 L305.27 86.06 L306.00 86.00 L306.65 85.94 L307.29 85.87 L307.92 85.80 L308.54 85.72 L309.16 85.62 L309.77 85.50 L310.39 85.37 L311.00 85.20 L311.64 85.00 L312.28 84.76 L312.92 84.50 L313.56 84.22 L314.19 83.92 L314.81 83.62 L315.41 83.31 L316.00 83.00 L316.53 82.70 L317.05 82.39 L317.56 82.07 L318.05 81.74 L318.55 81.42 L319.03 81.10 L319.52 80.79 L320.00 80.50 L320.44 80.26 L320.87 80.04 L321.29 79.82 L321.72 79.61 L322.14 79.40 L322.56 79.19 L322.98 78.95 L323.40 78.70 L323.86 78.41 L324.31 78.10 L324.77 77.78 L325.22 77.45 L325.68 77.10 L326.12 76.75 L326.56 76.38 L327.00 76.00 L327.46 75.60 L327.90 75.20 L328.35 74.80 L328.78 74.38 L329.22 73.93 L329.65 73.44 L330.07 72.90 L330.50 72.30 L331.16 71.21 L331.81 69.95 L332.45 68.56 L333.09 67.08 L333.72 65.54 L334.34 63.99 L334.97 62.46 L335.60 61.00 L336.23 59.56 L336.85 58.11 L337.47 56.66 L338.09 55.20 L338.71 53.75 L339.33 52.31 L339.96 50.89 L340.60 49.50 L341.21 48.20 L341.82 46.90 L342.43 45.61 L343.05 44.34 L343.67 43.09 L344.30 41.86 L344.95 40.66 L345.60 39.50 L346.20 38.48 L346.82 37.49 L347.44 36.53 L348.07 35.58 L348.71 34.65 L349.34 33.74 L349.98 32.84 L350.60 31.95 L351.16 31.15 L351.72 30.36 L352.27 29.58 L352.82 28.82 L353.37 28.07 L353.93 27.33 L354.51 26.61 L355.10 25.90 L355.69 25.23 L356.29 24.56 L356.90 23.90 L357.53 23.25 L358.15 22.62 L358.77 22.02 L359.39 21.44 L360.00 20.90 L360.50 20.46 L361.00 20.02 L361.49 19.61 L361.98 19.21 L362.47 18.83 L362.97 18.48 L363.48 18.17 L364.00 17.90 L364.49 17.68 L364.98 17.48 L365.49 17.31 L366.00 17.16 L366.51 17.05 L367.01 16.96 L367.51 16.91 L368.00 16.90 L368.45 16.92 L368.90 16.98 L369.35 17.07 L369.79 17.18 L370.23 17.33 L370.66 17.50 L371.08 17.69 L371.50 17.90 L371.96 18.18 L372.41 18.49 L372.86 18.85 L373.29 19.23 L373.72 19.64 L374.15 20.05 L374.58 20.48 L375.00 20.90 L375.45 21.36 L375.88 21.85 L376.31 22.35 L376.73 22.87 L377.15 23.39 L377.59 23.90 L378.03 24.41 L378.50 24.90 L379.01 25.40 L379.53 25.88 L380.06 26.36 L380.61 26.84 L381.16 27.31 L381.71 27.79 L382.26 28.26 L382.80 28.74"/>
</g>
<g class="serif" font-size="14">
<text x="53.7" y="251.75" text-anchor="end">0.000</text>
<text x="53.7" y="207.50" text-anchor="end">2.000</text>
<text x="53.7" y="163.25" text-anchor="end">4.000</text>
<text x="53.7" y="119.00" text-anchor="end">6.000</text>
<text x="53.7" y="74.75" text-anchor="end">8.000</text>
<text x="53.7" y="30.50" text-anchor="end">10.000</text>
<text x="107.00" y="277.8" text-anchor="middle">0.0</text>
<text x="158.46" y="277.8" text-anchor="middle">0.2</text>
<text x="209.92" y="277.8" text-anchor="middle">0.4</text>
<text x="261.38" y="277.8" text-anchor="middle">0.6</text>
<text x="312.84" y="277.8" text-anchor="middle">0.8</text>
<text x="364.30" y="277.8" text-anchor="middle">1.0</text>
<text x="415.76" y="277.8" text-anchor="middle">1.2</text>
</g>
<text class="serif ttl" font-size="16" x="167.9" y="296.6">E<tspan dy="4">p</tspan><tspan dy="-4"> ( V) </tspan><tspan font-style="italic">vs</tspan><tspan dx="1.6"> Ag/AgCl</tspan></text>
<text class="serif ttl" font-size="16" transform="translate(11,157) rotate(-90)">I<tspan dy="4">p</tspan><tspan dy="-4" dx="0.8"> (μA)</tspan></text>
<g class="sans">
<text x="288.8" y="71.6" font-size="11" font-weight="bold" text-anchor="middle">a</text>
<text x="371.9" y="7.4" font-size="11.5" stroke="#000" stroke-width="0.15" text-anchor="middle">b</text>
<g font-size="9.6" text-anchor="middle" text-rendering="geometricPrecision">
<text x="290.4" y="86.8">5</text>
<text x="292.1" y="98.3">4</text>
<text x="292.8" y="107.5">3</text>
<text x="296.5" y="116.6">2</text>
<text x="365.6" y="16.7">5</text>
<text x="378" y="38.6">4</text>
<text x="370.7" y="48.3">3</text>
<text x="366" y="56.6">2</text>
</g>
</g>
<g stroke="#000" stroke-width="1.05" fill="none"><path d="M286.9 124.6 L289.2 122.6 L289.2 129.6"/><path d="M357.2 62.6 L359.4 60.6 L359.4 67.4"/></g>
</svg>
</body></html>
